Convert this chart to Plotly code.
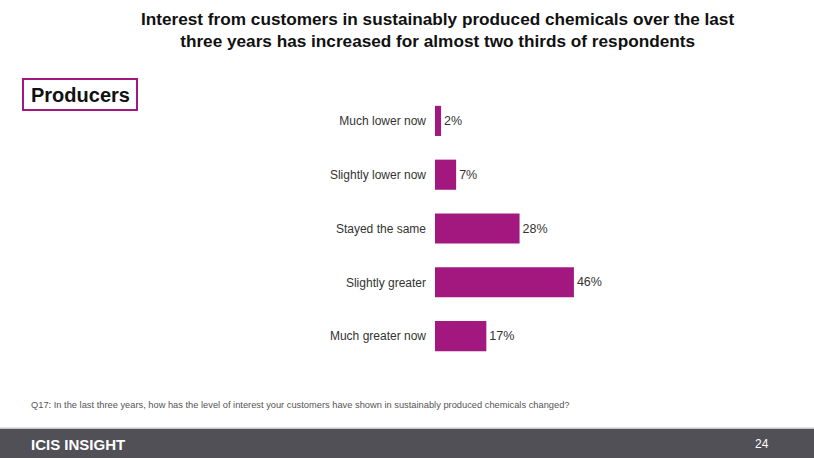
import plotly.graph_objects as go

categories = ["Much lower now", "Slightly lower now", "Stayed the same", "Slightly greater", "Much greater now"]
values = [2, 7, 28, 46, 17]
value_labels = [f"{v}%" for v in values]

W, H = 814, 458
BAR = "#A3187F"
FONT = "Arial, Liberation Sans, sans-serif"

fig = go.Figure(go.Bar(
    x=values, y=categories, orientation="h",
    marker=dict(color=BAR, line=dict(width=0)),
    width=0.56,
    text=value_labels, textposition="outside",
    textfont=dict(family=FONT, size=12.5, color="#333333"),
    cliponaxis=False,
))

L, T = 435, 94
PW = 151
PH = 268.75
fig.update_layout(
    width=W, height=H,
    margin=dict(l=L, r=W - L - PW, t=T, b=H - T - PH, pad=0),
    paper_bgcolor="white", plot_bgcolor="white",
    showlegend=False,
    font=dict(family=FONT, color="#333333"),
    xaxis=dict(range=[0, 50], visible=False, fixedrange=True),
    yaxis=dict(categoryorder="array", categoryarray=categories, autorange="reversed",
               showgrid=False, zeroline=False, showline=False, ticks="",
               tickfont=dict(family=FONT, size=12, color="#333333"),
               ticklabelstandoff=8),
)

def px_x(x):
    return (x - L) / PW

def px_y(y):
    return 1 - (y - T) / PH

# Title
fig.add_annotation(xref="paper", yref="paper", x=px_x(437), y=px_y(30),
                   text="<b>Interest from customers in sustainably produced chemicals over the last<br>three years has increased for almost two thirds of respondents</b>",
                   showarrow=False, xanchor="center", yanchor="middle", align="center",
                   font=dict(family=FONT, size=17.2, color="#111111"))

# Producers box
fig.add_shape(type="rect", xref="paper", yref="paper",
              x0=px_x(23), x1=px_x(137), y0=px_y(110), y1=px_y(79),
              line=dict(color=BAR, width=2), fillcolor="white", layer="below")
fig.add_annotation(xref="paper", yref="paper", x=px_x(80), y=px_y(95),
                   text="<b>Producers</b>", showarrow=False, xanchor="center", yanchor="middle",
                   font=dict(family=FONT, size=20, color="#111111"))

# Footnote
fig.add_annotation(xref="paper", yref="paper", x=px_x(29), y=px_y(405),
                   text="Q17: In the last three years, how has the level of interest your customers have shown in sustainably produced chemicals changed?",
                   showarrow=False, xanchor="left", yanchor="middle",
                   font=dict(family=FONT, size=9.3, color="#555555"))

# Footer band
fig.add_shape(type="rect", xref="paper", yref="paper",
              x0=px_x(0), x1=px_x(W), y0=px_y(H + 2), y1=px_y(428),
              line=dict(width=0), fillcolor="#505056", layer="above")
fig.add_shape(type="line", xref="paper", yref="paper",
              x0=px_x(0), x1=px_x(W), y0=px_y(428), y1=px_y(428),
              line=dict(color="#c4c4c4", width=1.5), layer="above")
fig.add_annotation(xref="paper", yref="paper", x=px_x(29), y=px_y(444),
                   text="<b>ICIS INSIGHT</b>", showarrow=False, xanchor="left", yanchor="middle",
                   font=dict(family=FONT, size=15, color="white"))
fig.add_annotation(xref="paper", yref="paper", x=px_x(771), y=px_y(444),
                   text="24", showarrow=False, xanchor="right", yanchor="middle",
                   font=dict(family=FONT, size=12, color="white"))

fig.write_html("out.html", config={"displayModeBar": False},
               post_script="document.body.style.margin='0';document.body.style.overflow='hidden';")
